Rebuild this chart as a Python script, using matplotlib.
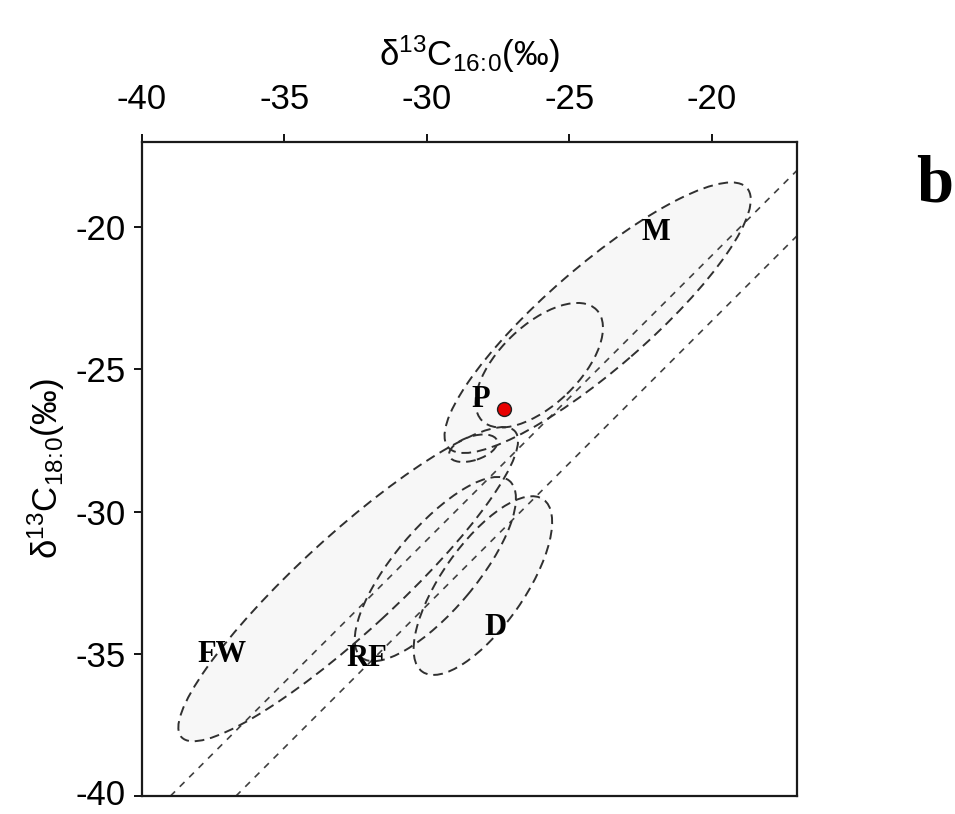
import matplotlib
matplotlib.use("Agg")
import matplotlib.pyplot as plt
import matplotlib.transforms as mtransforms
from matplotlib.patches import Ellipse

# ---- data ----
group_names = ["M", "P", "", "FW", "RF", "D"]
center_x = [-24.0, -26.05, -28.37, -32.76, -29.70, -28.03]
center_y = [-23.18, -24.85, -27.77, -32.55, -32.02, -32.60]
ell_width = [13.9, 5.6, 1.76, 15.9, 8.1, 7.4]
ell_height = [3.6, 2.8, 0.84, 3.4, 2.9, 2.9]
ell_angle = [41, 44, 18, 42.6, 50, 55]

label_text = ["M", "P", "FW", "RF", "D"]
label_x = [-21.97, -28.12, -37.19, -32.09, -27.59]
label_y = [-20.18, -26.05, -35.01, -35.18, -34.06]

sample_x = [-27.28]
sample_y = [-26.40]

delta_offsets = [-1.0, -3.3]   # reference lines: d18:0 = d16:0 + offset
line_x = [-41.0, -16.0]

ticks = [-40, -35, -30, -25, -20]

# ---- figure ----
plt.rcParams["font.family"] = ["Liberation Sans", "DejaVu Sans"]
plt.rcParams["mathtext.fontset"] = "custom"
plt.rcParams["mathtext.rm"] = "Liberation Sans"
plt.rcParams["mathtext.it"] = "Liberation Sans"
plt.rcParams["mathtext.default"] = "regular"
fig = plt.figure(figsize=(9.55, 8.14), dpi=100)
ax = fig.add_axes([142/955, 1-796/814, 655/955, 654/814])

for cx, cy, w, h, a in zip(center_x, center_y, ell_width, ell_height, ell_angle):
    ax.add_patch(Ellipse((cx, cy), w, h, angle=a, facecolor="#f7f7f7",
                         edgecolor="none", zorder=1))
for off in delta_offsets:
    ax.plot(line_x, [v + off for v in line_x], color="#404040", lw=1.2,
            linestyle=(0, (4, 4)), zorder=2)
for cx, cy, w, h, a in zip(center_x, center_y, ell_width, ell_height, ell_angle):
    ax.add_patch(Ellipse((cx, cy), w, h, angle=a, facecolor="none",
                         edgecolor="#303030", lw=1.4, linestyle=(0, (5, 3)), zorder=3))

for t, x, y in zip(label_text, label_x, label_y):
    ax.text(x, y, t, family="Liberation Serif", fontweight="bold", fontsize=22,
            ha="center", va="center", zorder=5)

ax.plot(sample_x, sample_y, "o", color="#e80000", mec="#202020", mew=1.0, ms=10, zorder=6)

ax.set_xlim(-40, -17)
ax.set_ylim(-40, -17)
ax.xaxis.tick_top()
ax.xaxis.set_label_position("top")
ax.set_xticks(ticks)
ax.set_yticks(ticks)
ax.set_xticklabels([str(t) for t in ticks])
ax.set_yticklabels([str(t) for t in ticks])
ax.tick_params(axis="both", direction="out", length=6, width=1.3,
               labelsize=25, colors="black")
ax.tick_params(axis="x", pad=13)
ax.tick_params(axis="y", pad=6)
for s in ax.spines.values():
    s.set_linewidth(1.6)
    s.set_color("#1a1a1a")

# keep the lowest y tick label inside the image
low_lbl = ax.yaxis.get_major_ticks()[0].label1
low_lbl.set_transform(low_lbl.get_transform() +
                      mtransforms.ScaledTranslation(0, 4/100, fig.dpi_scale_trans))

ax.set_xlabel(r"δ$^{13}$C$_{16\!:\!0}$(‰)", fontsize=25, labelpad=12)
ax.set_ylabel(r"δ$^{13}$C$_{18\!:\!0}$(‰)", fontsize=25, labelpad=6)

fig.text(935/955, 1-185/814, "b", family="Liberation Serif", fontweight="bold",
         fontsize=48, ha="center", va="center")

fig.savefig("out.png", dpi=100)
